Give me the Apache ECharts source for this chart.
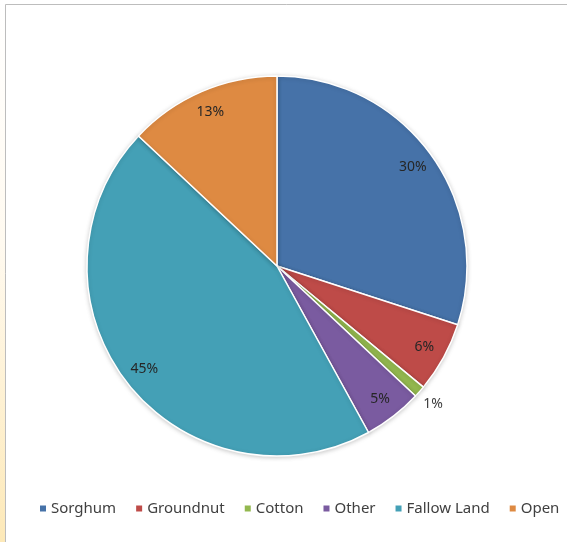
<!DOCTYPE html>
<html>
<head>
<meta charset="utf-8">
<script src="https://cdn.jsdelivr.net/npm/echarts@6/dist/echarts.min.js"></script>
<style>
html,body{margin:0;padding:0;background:#fff;}
#chart{width:567px;height:542px;}
</style>
</head>
<body>
<div id="chart"></div>
<script>
const categories = ['Sorghum', 'Groundnut', 'Cotton', 'Other', 'Fallow Land', 'Open'];
const values = [30, 6, 1, 5, 45, 13];
const colors = ['#4672A8', '#BE4B48', '#93B84F', '#7A5BA0', '#44A0B6', '#DE8A42'];
const outsideLabels = ['Cotton'];

const chart = echarts.init(document.getElementById('chart'));
const FONT = 'Noto Sans';
const center = [277, 266];
const R = 190;

const baseData = categories.map((c, i) => ({ name: c, value: values[i], itemStyle: { color: colors[i] } }));

const fmt = p => p.value + '%';

chart.setOption({
  animation: false,
  backgroundColor: '#fff',
  graphic: [
    { type: 'rect', shape: { x: 0, y: 0, width: 5, height: 542 }, silent: true,
      style: { fill: new echarts.graphic.LinearGradient(0, 0, 0, 1, [
        { offset: 0, color: '#ffffff' }, { offset: 0.45, color: '#fffaf0' }, { offset: 1, color: '#fde9b8' }]) } },
    { type: 'line', shape: { x1: 5.5, y1: 4.5, x2: 567, y2: 4.5 }, silent: true, style: { stroke: '#bdbdbd', lineWidth: 1 } },
    { type: 'line', shape: { x1: 5.5, y1: 4.5, x2: 5.5, y2: 542 }, silent: true, style: { stroke: '#bdbdbd', lineWidth: 1 } }
  ],
  legend: {
    data: categories,
    left: 33,
    top: 496,
    width: 900,
    orient: 'horizontal',
    itemWidth: 8,
    itemHeight: 8,
    itemGap: 18,
    icon: 'rect',
    textStyle: { fontFamily: FONT, fontSize: 15, color: '#404040', padding: [0, 0, 0, -1] },
    selectedMode: false
  },
  series: [
    {
      type: 'pie',
      center: center,
      radius: [0, R],
      startAngle: 90,
      clockwise: true,
      data: baseData,
      label: { show: false },
      labelLine: { show: false },
      itemStyle: { borderColor: '#ffffff', borderWidth: 1.5,
        shadowBlur: 4, shadowColor: 'rgba(0,0,0,0.18)', shadowOffsetY: 1 },
      emphasis: { disabled: true },
      silent: true
    },
    {
      type: 'pie',
      center: center,
      radius: [140, R],
      startAngle: 90,
      clockwise: true,
      data: categories.map((c, i) => ({
        name: c, value: values[i],
        label: { show: outsideLabels.indexOf(c) < 0 }
      })),
      itemStyle: { color: 'rgba(0,0,0,0)' },
      label: { position: 'inside', formatter: fmt, fontFamily: FONT, fontSize: 14, color: '#262626' },
      labelLine: { show: false },
      emphasis: { disabled: true },
      silent: true
    },
    {
      type: 'pie',
      center: center,
      radius: [R, 220],
      startAngle: 90,
      clockwise: true,
      data: categories.map((c, i) => ({
        name: c, value: values[i],
        label: { show: outsideLabels.indexOf(c) >= 0 }
      })),
      itemStyle: { color: 'rgba(0,0,0,0)' },
      label: { position: 'inside', formatter: fmt, fontFamily: FONT, fontSize: 14, color: '#404040' },
      labelLine: { show: false },
      emphasis: { disabled: true },
      silent: true
    }
  ]
});
</script>
</body>
</html>
